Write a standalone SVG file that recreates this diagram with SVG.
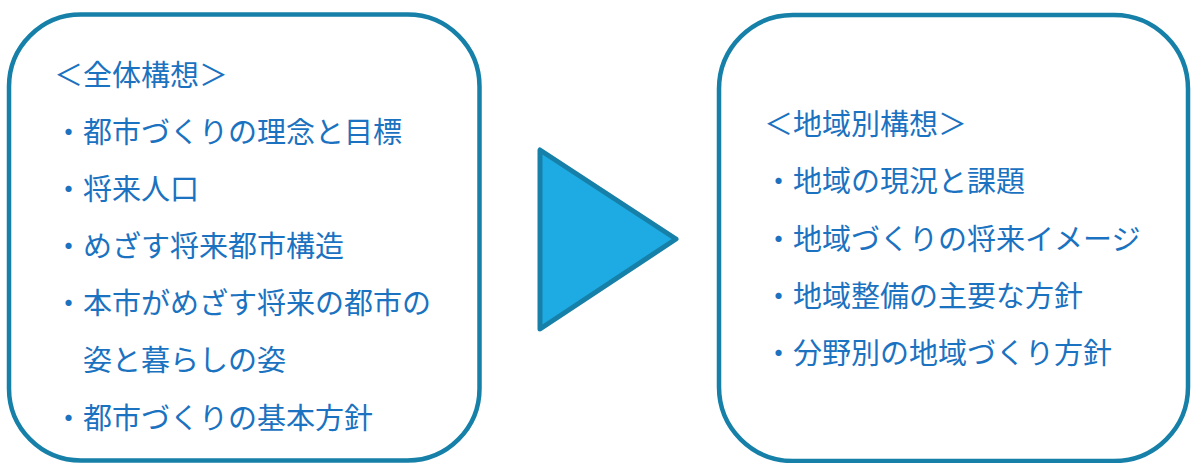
<svg xmlns="http://www.w3.org/2000/svg" width="1192" height="463" viewBox="0 0 1192 463">
<style>
.box{fill:#ffffff;stroke:#1680a8;stroke-width:4.5}
.t{font-family:"Noto Sans CJK JP","Noto Sans CJK SC",sans-serif;font-size:29px;fill:#1a72c0}
.arrow{fill:#1eabe3;stroke:#1680a8;stroke-width:5;stroke-linejoin:round}
</style>
<rect width="1192" height="463" fill="#ffffff"/>
<g id="overall">
<rect class="box" x="9" y="14.5" width="470.5" height="446" rx="72" ry="72"/>
<text class="t" x="54" y="86">＜全体構想＞</text>
<text class="t" x="54" y="143">・都市づくりの理念と目標</text>
<text class="t" x="54" y="200">・将来人口</text>
<text class="t" x="54" y="257">・めざす将来都市構造</text>
<text class="t" x="54" y="314">・本市がめざす将来の都市の</text>
<text class="t" x="83" y="371">姿と暮らしの姿</text>
<text class="t" x="54" y="428.5">・都市づくりの基本方針</text>
</g>
<g id="connectors">
<polygon class="arrow" points="540,150 540,329 676,239"/>
</g>
<g id="regional">
<rect class="box" x="719" y="15" width="469" height="446" rx="74" ry="74"/>
<text class="t" x="764" y="135">＜地域別構想＞</text>
<text class="t" x="764" y="192.3">・地域の現況と課題</text>
<text class="t" x="764" y="249.5">・地域づくりの将来イメージ</text>
<text class="t" x="764" y="306.8">・地域整備の主要な方針</text>
<text class="t" x="764" y="364">・分野別の地域づくり方針</text>
</g>
</svg>
